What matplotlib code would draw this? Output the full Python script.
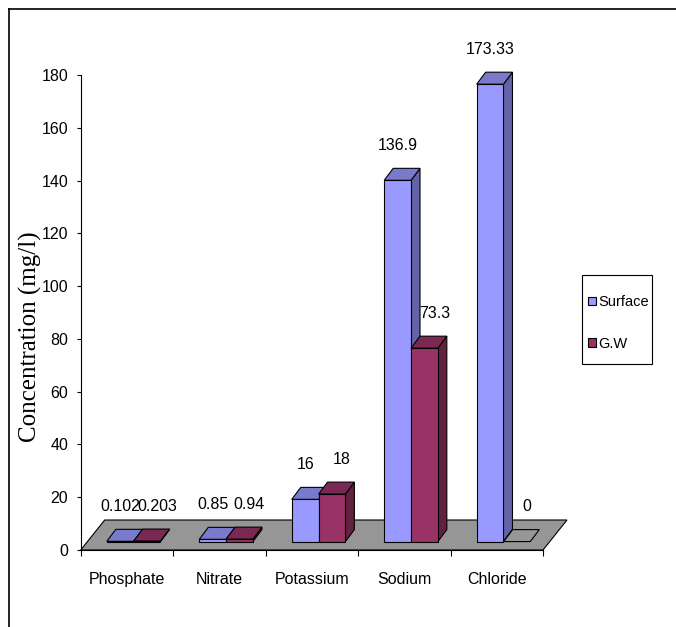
import matplotlib
matplotlib.use("Agg")
import matplotlib.pyplot as plt
from matplotlib.patches import Polygon, Patch, Rectangle
from matplotlib.lines import Line2D
import numpy as np

# data
categories = ["Phosphate", "Nitrate", "Potassium", "Sodium", "Chloride"]
surface = [0.102, 0.85, 16, 136.9, 173.33]
gw = [0.203, 0.94, 18, 73.3, 0]
surface_labels = ["0.102", "0.85", "16", "136.9", "173.33"]
gw_labels = ["0.203", "0.94", "18", "73.3", "0"]
series_names = ["Surface", "G.W"]
yticks = np.arange(0, 181, 20)

colors = ["#9999FF", "#993366"]
floor_color = "#969696"
sans = ["Liberation Sans", "DejaVu Sans"]

W, H = 676, 627
fig = plt.figure(figsize=(W / 100, H / 100), dpi=100)
ax = fig.add_axes([80.7 / W, 1 - 550 / H, (543 - 80.7) / W, 475 / H])
ax.set_xlim(0, len(categories))
ax.set_ylim(0, 180)

# pixels per data unit, used to turn the 3d look into data offsets
px_x = (543 - 80.7) / len(categories)
px_y = 475 / 180
fdx, fdy = 24 / px_x, 30 / px_y      # floor depth
ox, oy = 6.7 / px_x, 8.4 / px_y      # bars sit in the middle of the floor
bdx, bdy = 9 / px_x, 12 / px_y       # bar depth
w = 0.29


def shade(c, f):
    rgb = np.array(matplotlib.colors.to_rgb(c)) * f
    return tuple(rgb)


# floor
n = len(categories)
ax.add_patch(Polygon([(0, 0), (n, 0), (n + fdx, fdy), (fdx, fdy)],
                     closed=True, fc=floor_color, ec="black", lw=0.8,
                     clip_on=False, zorder=1))


def bar3d(x0, v, c):
    y0 = oy
    y1 = oy + v
    if v == 0:
        ax.add_patch(Polygon([(x0, y1), (x0 + w, y1), (x0 + w + bdx, y1 + bdy),
                              (x0 + bdx, y1 + bdy)], closed=True, fc="none",
                             ec="black", lw=0.8, clip_on=False, zorder=2))
        return
    side = [(x0 + w, y0), (x0 + w + bdx, y0 + bdy), (x0 + w + bdx, y1 + bdy), (x0 + w, y1)]
    top = [(x0, y1), (x0 + w, y1), (x0 + w + bdx, y1 + bdy), (x0 + bdx, y1 + bdy)]
    front = [(x0, y0), (x0 + w, y0), (x0 + w, y1), (x0, y1)]
    for pts, f in ((side, 0.65), (top, 0.8), (front, 1.0)):
        ax.add_patch(Polygon(pts, closed=True, fc=shade(c, f), ec="black",
                             lw=0.8, clip_on=False, zorder=2))


for i in range(n):
    cx = i + 0.5 + ox
    for j, (vals, labs) in enumerate(((surface, surface_labels), (gw, gw_labels))):
        x0 = cx - w + j * w
        bar3d(x0, vals[i], colors[j])
        ax.annotate(labs[i], xy=(x0 + w / 2, oy + vals[i]),
                    xytext=(0 if j == 0 else 7.2, 25), textcoords="offset points",
                    ha="center", va="center", fontsize=11.5, family=sans,
                    annotation_clip=False, zorder=5)

# axes styling
for s in ("top", "right"):
    ax.spines[s].set_visible(False)
for s in ("left", "bottom"):
    ax.spines[s].set_linewidth(0.8)
    ax.spines[s].set_zorder(3)
ax.set_yticks(yticks)
ax.set_yticklabels([str(t) for t in yticks], family=sans, fontsize=11.5)
ax.tick_params(axis="y", length=3, width=0.8, pad=6)
ax.set_xticks(np.arange(n + 1))
ax.set_xticklabels([])
ax.set_xticks(np.arange(n) + 0.5, minor=True)
ax.set_xticklabels(categories, minor=True, family=sans, fontsize=11.5)
ax.tick_params(axis="x", which="major", length=4.5, width=0.8)
ax.tick_params(axis="x", which="minor", length=0, pad=16)
ax.patch.set_visible(False)

fig.text(30 / W, 1 - 337 / H, "Concentration (mg/l)", rotation=90,
         ha="center", va="center", fontsize=18,
         family=["Liberation Serif", "DejaVu Serif"])

# legend
handles = [Patch(fc=c, ec="black", lw=0.8) for c in colors]
fig.legend(handles, series_names, loc="center left",
           bbox_to_anchor=(588 / W, 1 - 323 / H), frameon=False, borderpad=0,
           borderaxespad=0, handlelength=0.55, handleheight=0.55,
           handletextpad=0.15, labelspacing=1.9,
           prop={"family": sans, "size": 10.5})
fig.add_artist(Rectangle((582 / W, 1 - 364 / H), 70 / W, 89 / H,
                         transform=fig.transFigure, fc="none", ec="black", lw=0.8))

# outer frame (top and left only)
fig.add_artist(Line2D([9 / W, 1], [1 - 9 / H, 1 - 9 / H], transform=fig.transFigure,
                      color="black", lw=1.2))
fig.add_artist(Line2D([9 / W, 9 / W], [0, 1 - 9 / H], transform=fig.transFigure,
                      color="black", lw=1.2))

fig.savefig("out.png", dpi=100)
